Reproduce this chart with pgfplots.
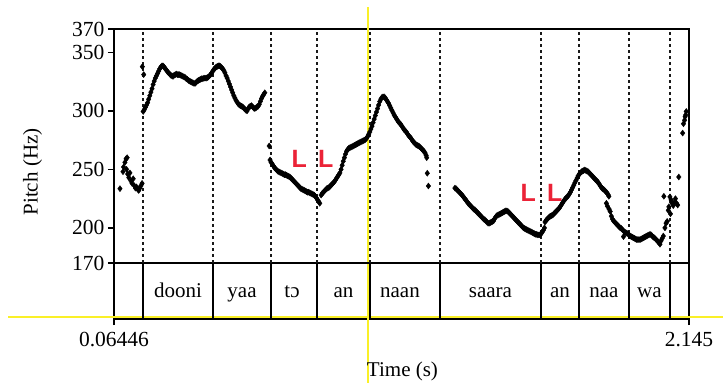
\documentclass[border=0pt]{standalone}
\usepackage{fontspec}
\setmainfont{Liberation Serif}
\newfontfamily\Lfont{Liberation Sans}
\usepackage{pgfplots}
\usepackage{pgfplotstable}
\pgfplotsset{compat=1.18}
\definecolor{Lred}{RGB}{235,35,55}
\definecolor{selyellow}{RGB}{250,240,40}

% pitch track (s, Hz)
\pgfplotstableread{
t f
0.086 233.5
0.097 248
0.099 252
0.104 256
0.108 259
0.112 260
0.110 250
0.114 246
0.118 243
0.122 247
0.126 240
0.130 238
0.134 242
0.138 236
0.142 234
0.146 235
0.150 233
0.154 232
0.158 234
0.162 236
0.166 238
0.167 337.8
0.172 331
0.170 299.5
0.174 301
0.178 303
0.182 305
0.186 307
0.190 310
0.194 313
0.198 316
0.202 319
0.206 322.5
0.210 325.5
0.214 328
0.218 330
0.222 332
0.226 334
0.230 336
0.234 337.5
0.238 338.5
0.242 338.5
0.246 337.5
0.250 336
0.254 335
0.258 333.5
0.262 332.5
0.266 331.5
0.270 330.5
0.274 330
0.278 329.5
0.282 330.5
0.286 331
0.290 331.5
0.294 331
0.298 331
0.302 331
0.306 330.5
0.310 330
0.314 329.5
0.318 329
0.322 328.5
0.326 327.5
0.330 327
0.334 326
0.338 325.5
0.342 325
0.346 324.5
0.350 324
0.354 323.5
0.358 323.5
0.362 324.5
0.366 325.5
0.370 326
0.374 326.5
0.378 327
0.382 327.5
0.386 327.5
0.390 328
0.394 328
0.398 328
0.402 328.5
0.406 329
0.410 330
0.414 331
0.418 332.5
0.422 334
0.426 335.5
0.430 336.5
0.434 337.5
0.438 338
0.442 338.5
0.446 338.5
0.450 338
0.454 337
0.458 336
0.462 334.5
0.466 332.5
0.470 330
0.474 328
0.478 325.5
0.482 323
0.486 320.5
0.490 318
0.494 315.5
0.498 313
0.502 311
0.506 309
0.510 307.5
0.514 306
0.518 305
0.522 304.5
0.526 304
0.530 303.5
0.534 302.5
0.538 301.5
0.542 300.5
0.546 300
0.550 302
0.554 303.5
0.558 304
0.562 304.5
0.566 303.5
0.570 302.5
0.574 302
0.578 302.5
0.582 303.5
0.586 304
0.590 305.5
0.594 308
0.598 310.5
0.602 312.5
0.606 314
0.610 315.5
0.626 270
0.629 258
0.633 256
0.637 254.5
0.641 253
0.645 251.5
0.649 250.5
0.653 249.5
0.657 248.5
0.661 248
0.665 247.5
0.669 247
0.673 246.5
0.677 246
0.681 245.5
0.685 245.5
0.689 245
0.693 244.5
0.697 244
0.701 243.5
0.705 242.5
0.709 241.5
0.713 240.5
0.717 239.5
0.721 238.5
0.725 237.5
0.729 236.5
0.733 235.5
0.737 234.5
0.741 233.5
0.745 233
0.749 232.5
0.753 232
0.757 231.5
0.761 231
0.765 230.5
0.769 230.5
0.773 230
0.777 229.5
0.781 229
0.785 228.5
0.789 228
0.793 227
0.797 225.5
0.801 224
0.805 222.5
0.809 221
0.814 228
0.818 229.5
0.822 230.5
0.826 231.5
0.830 232.5
0.834 233.5
0.838 234
0.842 234.5
0.846 235.5
0.850 236.5
0.854 237.5
0.858 238.5
0.862 239.5
0.866 241
0.870 242.5
0.874 244
0.878 245.5
0.882 247
0.886 250
0.890 253.5
0.894 257
0.898 260
0.902 263
0.906 265.5
0.910 267
0.914 268
0.918 268.5
0.922 269
0.926 269.5
0.930 270
0.934 270.5
0.938 271
0.942 271.5
0.946 272
0.950 272.5
0.954 273
0.958 273.5
0.962 274
0.966 274.5
0.970 275
0.974 275.5
0.978 276.5
0.982 278
0.986 280
0.990 282
0.994 284.5
0.998 287
1.002 290
1.006 293
1.010 296
1.014 299
1.018 302
1.022 305
1.026 308
1.030 310
1.034 311.5
1.038 312
1.042 312
1.046 311
1.050 309.5
1.054 308
1.058 306.5
1.062 304.5
1.066 302.5
1.070 300.5
1.074 298.5
1.078 296.5
1.082 295
1.086 293.5
1.090 292
1.094 290.5
1.098 289.5
1.102 288.5
1.106 287
1.110 285.5
1.114 284
1.118 283
1.122 282
1.126 280.5
1.130 279
1.134 278
1.138 277
1.142 275.5
1.146 274
1.150 273
1.154 272
1.158 271
1.162 270.5
1.166 270
1.170 269.5
1.174 268.5
1.178 267.5
1.182 266.5
1.186 265.5
1.190 264
1.194 262
1.196 260
1.198 246.7
1.202 235.8
1.298 234
1.302 233.5
1.306 232.5
1.310 231.5
1.314 230.5
1.318 229.5
1.322 228.5
1.326 227.5
1.330 226
1.334 225
1.338 223.5
1.342 222.5
1.346 221
1.350 220
1.354 219
1.358 218
1.362 217
1.366 216
1.370 215.5
1.374 214.5
1.378 213.5
1.382 212.5
1.386 211.5
1.390 210.5
1.394 209.5
1.398 208.5
1.402 207.5
1.406 207
1.410 206
1.414 205
1.418 204
1.422 204
1.426 204.5
1.430 205
1.434 205.5
1.438 206
1.442 208
1.446 209.5
1.450 210.5
1.454 211
1.458 211.5
1.462 212
1.466 212.5
1.470 213
1.474 213.5
1.478 214
1.482 214.5
1.486 214.5
1.490 214
1.494 213
1.498 212
1.502 211
1.506 210
1.510 209
1.514 208
1.518 207
1.522 206
1.526 205
1.530 204
1.534 203
1.538 202
1.542 201
1.546 200
1.550 199.5
1.554 199
1.558 198.5
1.562 198
1.566 197.5
1.570 197
1.574 196.5
1.578 196
1.582 195.5
1.586 195
1.590 194.5
1.594 194.5
1.598 194
1.602 194
1.606 194
1.610 195
1.614 196.5
1.618 198
1.622 200
1.624 205
1.628 206.5
1.632 207.5
1.636 208.5
1.640 209.5
1.644 210
1.648 210.5
1.652 211
1.656 212
1.660 213
1.664 214
1.668 215
1.672 216
1.676 217
1.680 218.5
1.684 220
1.688 221.5
1.692 223
1.696 224.5
1.700 225.5
1.704 226.5
1.708 227.5
1.712 229
1.716 230.5
1.720 232.5
1.724 234.5
1.728 236.5
1.732 238.5
1.736 240.5
1.740 242.5
1.744 244.5
1.748 246
1.752 247
1.756 248
1.760 248.5
1.764 249
1.768 249.5
1.772 249
1.776 248.5
1.780 248
1.784 247
1.788 246
1.792 245
1.796 244
1.800 243
1.804 242
1.808 241
1.812 240
1.816 239
1.820 237.5
1.824 236
1.828 234.5
1.832 233.5
1.836 233
1.840 232
1.844 231
1.848 230
1.852 228.5
1.855 227
1.846 221
1.850 218.5
1.856 216
1.860 214
1.864 210
1.868 207.5
1.872 206
1.876 205
1.880 204
1.884 203
1.888 202
1.892 201
1.896 200
1.900 199.5
1.904 198.5
1.908 197.5
1.908 192.5
1.912 196.5
1.916 196
1.920 195.5
1.924 195
1.928 194
1.932 193
1.936 192.5
1.940 192
1.944 191.5
1.948 191
1.952 190.5
1.956 190
1.960 190
1.964 190
1.968 190
1.972 190.5
1.976 191
1.980 191.5
1.984 192
1.988 192.5
1.992 193
1.996 193.5
2.000 194
2.004 194.5
2.008 194
2.012 193
2.016 192
2.020 191.5
2.024 190.5
2.028 189.5
2.032 188.5
2.036 187.5
2.040 186
2.044 189
2.048 191
2.052 193
2.058 200
2.062 204
2.066 205.5
2.054 227
2.070 215
2.072 218
2.076 226.5
2.078 212
2.080 224
2.084 221
2.088 219
2.092 222
2.096 225
2.100 221
2.104 219.5
2.108 243.5
2.122 281
2.125 289
2.129 292
2.131 295
2.133 296.5
2.135 299.5
}\pitch

\begin{document}
\begin{tikzpicture}
\path[use as bounding box] (-114pt,-64pt) rectangle (609pt,319pt);
\begin{axis}[
  at={(0,0)}, anchor=south west,
  width=575pt, height=290pt, scale only axis,
  xmin=0.06446, xmax=2.145, ymin=122.1, ymax=370,
  clip=false,
  axis line style={line width=1.8pt},
  xtick={0.06446,2.145}, xticklabels={0.06446,2.145},
  ytick={170,200,250,300,350,370},
  xtick pos=lower, ytick pos=left,
  tick align=outside, major tick length=6pt,
  tick style={line width=1.6pt, black},
  /pgf/number format/assume math mode=true,
  ticklabel style={font=\fontsize{21.5}{25}\selectfont},
  xticklabel style={yshift=-4pt},
  xlabel={Time (s)}, ylabel={Pitch (Hz)},
  label style={font=\fontsize{21}{25}\selectfont},
  xlabel style={at={(axis description cs:0.5017,-0.1966)}, anchor=base},
  ylabel style={at={(axis description cs:-0.1330,0.507)}, anchor=base, rotate=0},
]
% selection lines of the editor
\addplot[selyellow, line width=2pt, forget plot] coordinates {(-0.319,123.8) (2.268,123.8)};
\addplot[selyellow, line width=1.5pt, forget plot] coordinates {(0.9834,388.8) (0.9834,67.4)};
% tier line and word boundaries
\addplot[black, line width=1.1pt, forget plot] coordinates {(0.06446,170) (2.145,170)};
\addplot[black!90, line width=1.2pt, dash pattern=on 3pt off 3pt, unbounded coords=jump, forget plot] coordinates {
  (0.1694,170) (0.1694,370) (0.1694,nan)
  (0.4227,170) (0.4227,370) (0.4227,nan)
  (0.6325,170) (0.6325,370) (0.6325,nan)
  (0.7989,170) (0.7989,370) (0.7989,nan)
  (0.9907,170) (0.9907,370) (0.9907,nan)
  (1.2439,170) (1.2439,370) (1.2439,nan)
  (1.6093,170) (1.6093,370) (1.6093,nan)
  (1.7468,170) (1.7468,370) (1.7468,nan)
  (1.9277,170) (1.9277,370) (1.9277,nan)
  (2.0760,170) (2.0760,370)};
\addplot[black, line width=1.2pt, unbounded coords=jump, forget plot] coordinates {
  (0.1694,122.1) (0.1694,170) (0.1694,nan)
  (0.4227,122.1) (0.4227,170) (0.4227,nan)
  (0.6325,122.1) (0.6325,170) (0.6325,nan)
  (0.7989,122.1) (0.7989,170) (0.7989,nan)
  (0.9907,122.1) (0.9907,170) (0.9907,nan)
  (1.2439,122.1) (1.2439,170) (1.2439,nan)
  (1.6093,122.1) (1.6093,170) (1.6093,nan)
  (1.7468,122.1) (1.7468,170) (1.7468,nan)
  (1.9277,122.1) (1.9277,170) (1.9277,nan)
  (2.0760,122.1) (2.0760,170)};
% pitch
\addplot[only marks, mark=diamond*, mark size=3pt, black] table[x=t, y=f] {\pitch};
% words
\begin{scope}[every node/.style={anchor=base, font=\fontsize{21}{25}\selectfont}]
\node at (axis cs:0.2960,140.1) {dooni};
\node at (axis cs:0.5276,140.1) {yaa};
\node at (axis cs:0.7085,140.1) {tɔ};
\node at (axis cs:0.8948,140.1) {an};
\node at (axis cs:1.0992,140.1) {naan};
\node at (axis cs:1.4267,140.1) {saara};
\node at (axis cs:1.6781,140.1) {an};
\node at (axis cs:1.8373,140.1) {naa};
\node at (axis cs:2.0019,140.1) {wa};
\end{scope}
% low tone marks
\begin{scope}[every node/.style={anchor=base, text=Lred, font=\Lfont\bfseries\fontsize{25}{28}\selectfont}]
\node at (axis cs:0.7345,251.8) {L};
\node at (axis cs:0.8308,251.8) {L};
\node at (axis cs:1.5634,222.4) {L};
\node at (axis cs:1.6589,222.4) {L};
\end{scope}
\end{axis}
\end{tikzpicture}
\end{document}
